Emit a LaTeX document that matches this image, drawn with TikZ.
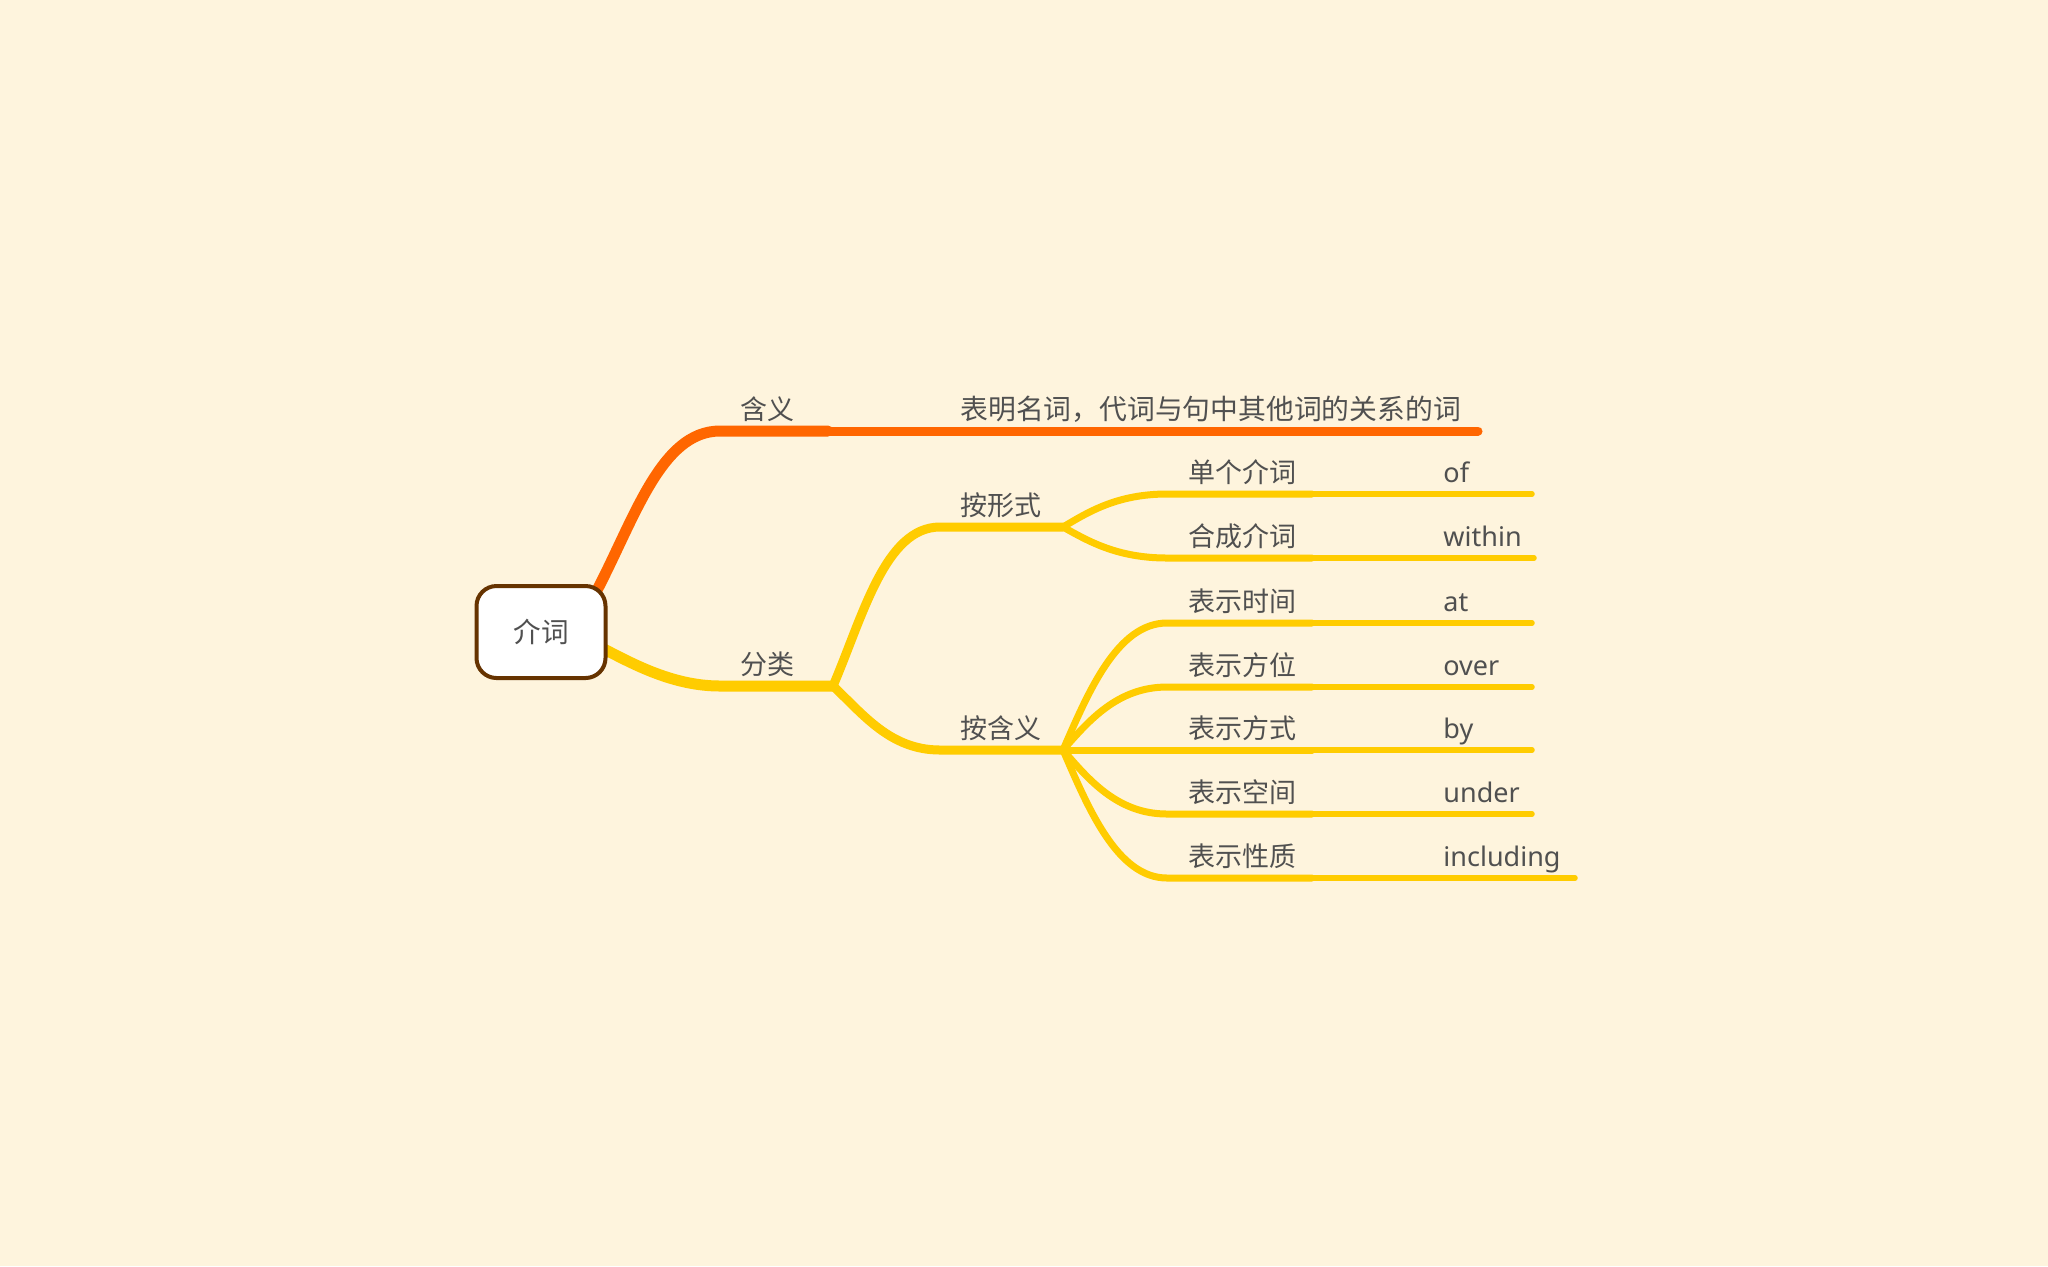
\documentclass[tikz,border=0pt]{standalone}
\usepackage{fontspec}
\setmainfont{Noto Sans CJK SC}
\newfontfamily\latinfont{Noto Sans}
\definecolor{bgcream}{HTML}{FEF4DD}
\definecolor{branchorange}{HTML}{FF6600}
\definecolor{branchyellow}{HTML}{FFCC00}
\definecolor{rootbrown}{HTML}{663300}
\definecolor{textgray}{HTML}{505050}
\tikzset{
    topic/.style={anchor=base west,inner sep=0pt,text=textgray,font=\fontsize{13.5pt}{16pt}\selectfont},
    word/.style={topic,font=\fontsize{13.5pt}{16pt}\selectfont\latinfont},
    rootbox/.style={draw=rootbrown,line width=2pt,fill=white,rounded corners=10pt,
        minimum width=64.5pt,minimum height=46pt,text=textgray,font=\fontsize{13.8pt}{16pt}\selectfont},
    mainline/.style={line width=5.5pt,line cap=round},
    subline/.style={line width=4.5pt,line cap=round},
    twigline/.style={line width=3.5pt,line cap=round},
    leafline/.style={line width=2.75pt,line cap=round}
}

\begin{document}
\begin{tikzpicture}[x=0.5pt,y=-0.5pt]
\useasboundingbox[fill=bgcream] (0,0) rectangle (2048,1266);

\coordinate (r1) at (594,596);
\coordinate (r2) at (598,646);
\coordinate (c1) at (720,431);
\coordinate (c1e) at (828,431);
\coordinate (c2) at (720,686);
\coordinate (c2e) at (833,686);
\coordinate (m1) at (940,431);
\coordinate (m1e) at (1478,431);
\coordinate (f1) at (940,527);
\coordinate (f1e) at (1063,527);
\coordinate (f2) at (940,750);
\coordinate (f2e) at (1063,750);

\draw[mainline,branchorange] (r1) .. controls +(40,-75) and +(-60,0) .. (c1) -- (c1e);
\draw[subline,branchorange] (c1e) -- (m1) -- (m1e);
\draw[mainline,branchyellow] (r2) .. controls +(30,15) and +(-50,0) .. (c2) -- (c2e);
\draw[subline,branchyellow] (c2e) .. controls +(30,-70) and +(-55,0) .. (f1) -- (f1e);
\draw[subline,branchyellow] (c2e) .. controls +(30,28) and +(-50,0) .. (f2) -- (f2e);

\foreach \p/\py/\y/\zh/\en/\xe [count=\i] in {
    f1e/527/494/单个介词/of/1532,
    f1e/527/558/合成介词/within/1534,
    f2e/750/623/表示时间/at/1532,
    f2e/750/687/表示方位/over/1532,
    f2e/750/750/表示方式/by/1532,
    f2e/750/814/表示空间/under/1532,
    f2e/750/878/表示性质/including/1575}{
    \pgfmathsetmacro\dy{0.45*(\y-\py)}
    \coordinate (t\i) at (1167,\y);
    \coordinate (t\i e) at (1312,\y);
    \coordinate (w\i e) at (\xe,\y);
    \draw[twigline,branchyellow] (\p) .. controls +(25,\dy) and +(-50,0) .. (t\i) -- (t\i e);
    \draw[leafline,branchyellow] (t\i e) -- (w\i e);
    \node[topic] (t\i text) at ([shift={(21,-12)}]t\i) {\zh};
    \node[word] (w\i) at ([shift={(131,-12)}]t\i e) {\en};
}

\node[rootbox] (root) at (541,632) {介词};
\node[topic] (hanyi) at ([shift={(20,-12)}]c1) {含义};
\node[topic] (fenlei) at ([shift={(20,-12)}]c2) {分类};
\node[topic,font=\fontsize{13.9pt}{16pt}\selectfont] (meaning) at ([shift={(20,-12)}]m1) {表明名词，代词与句中其他词的关系的词};
\node[topic] (xingshi) at ([shift={(20,-12)}]f1) {按形式};
\node[topic] (hanyiby) at ([shift={(20,-12)}]f2) {按含义};
\end{tikzpicture}
\end{document}
